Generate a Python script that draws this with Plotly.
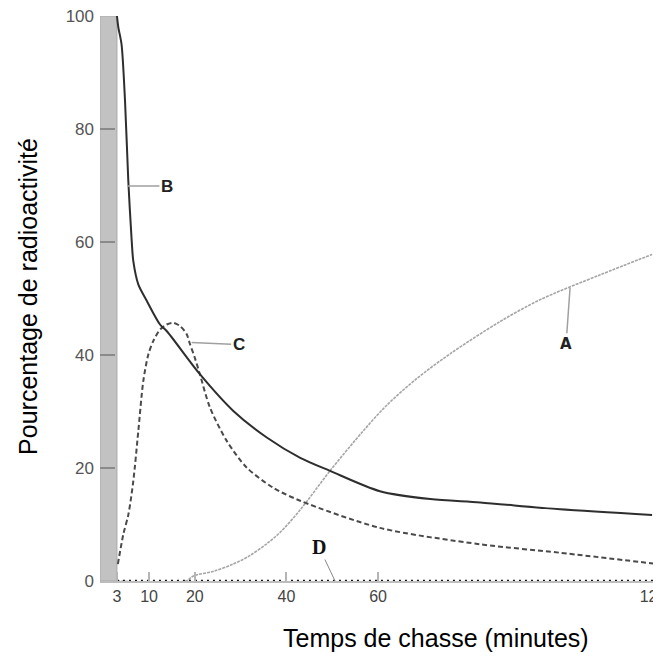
import plotly.graph_objects as go

# ---- data ----
pulse_start = -0.7
pulse_end = 3.0

b_x = [3.0, 3.3, 4.0, 4.76, 5.48, 6.22, 6.57, 7.66, 9.5, 12.4, 13.9, 21.1, 28.4, 35.7, 43.0, 49.5, 60.4, 71.4, 82.3, 99.7, 119.8]
b_y = [100, 98, 95.0, 85.0, 70.8, 60.2, 56.6, 52.5, 49.6, 45.4, 44.2, 36.6, 30.1, 25.4, 21.8, 19.5, 15.9, 14.5, 13.9, 12.7, 11.7]

c_x = [3.2, 4.4, 5.5, 6.57, 7.66, 8.75, 9.85, 10.94, 12.4, 13.86, 15.3, 16.8, 18.2, 18.95, 20.0, 21.1, 23.3, 26.96, 31.3, 37.1, 43.0, 60.4, 82.3, 99.7, 120.0]
c_y = [3.0, 8.3, 11.8, 17.7, 26.5, 35.4, 40.1, 42.5, 44.5, 45.4, 45.7, 45.1, 43.7, 41.9, 39.5, 36.6, 30.7, 24.8, 20.1, 16.5, 14.2, 9.4, 6.5, 5.0, 3.1]

a_x = [3.0, 18.0, 19.7, 24.0, 28.4, 32.0, 35.7, 38.6, 43.0, 49.5, 56.8, 62.0, 68.4, 75.7, 86.6, 95.4, 108.5, 119.8]
a_y = [0.0, 0.0, 0.9, 1.7, 3.0, 4.5, 6.6, 8.6, 12.6, 19.5, 26.6, 31.2, 35.8, 40.2, 45.9, 49.8, 54.2, 57.8]

d_x = [3.0, 120.0]
d_y = [0.0, 0.0]

x_tick_vals = [3, 10, 20, 40, 60, 120]
x_tick_text = ["3", "10", "20", "40", "60", "120"]
y_tick_vals = [0, 20, 40, 60, 80, 100]

labels = ["B", "C", "A", "D"]
label_x = [5.4, 19.3, 101.9, 50.6]
label_y = [69.9, 42.2, 51.9, 0.0]

x_title = "Temps de chasse (minutes)"
y_title = "Pourcentage de radioactivité"

# ---- figure ----
fig = go.Figure()

fig.add_shape(type="rect", xref="x", yref="y", x0=pulse_start, x1=pulse_end, y0=0, y1=100,
              fillcolor="#c2c2c2", line=dict(color="#a9a9a9", width=1), layer="below")

fig.add_trace(go.Scatter(x=a_x, y=a_y, mode="lines", line=dict(color="#a5a5a5", width=1.6, dash="3px,1px", shape="spline", smoothing=0.9),
                         cliponaxis=False, showlegend=False, hoverinfo="skip"))
fig.add_trace(go.Scatter(x=c_x, y=c_y, mode="lines", line=dict(color="#4a4a4a", width=2, dash="5px,3px", shape="spline", smoothing=0.8),
                         cliponaxis=False, showlegend=False, hoverinfo="skip"))
fig.add_trace(go.Scatter(x=b_x, y=b_y, mode="lines", line=dict(color="#2e2e2e", width=2, shape="spline", smoothing=0.8),
                         cliponaxis=False, showlegend=False, hoverinfo="skip"))
fig.add_trace(go.Scatter(x=d_x, y=d_y, mode="lines", line=dict(color="#111111", width=2.5, dash="2px,4px"),
                         cliponaxis=False, showlegend=False, hoverinfo="skip"))

label_offsets = [(39, 0), (47, 2), (-4, 56), (-16, -34)]
label_fonts = [
    dict(family="Liberation Sans", size=17, color="#222"),
    dict(family="Liberation Sans", size=17, color="#222"),
    dict(family="DejaVu Sans", size=15, color="#222"),
    dict(family="Liberation Serif", size=20, color="#111"),
]
for i, lab in enumerate(labels):
    ax, ay = label_offsets[i]
    fig.add_annotation(x=label_x[i], y=label_y[i], xref="x", yref="y", text="<b>%s</b>" % lab,
                       showarrow=True, arrowhead=0, arrowwidth=1.5 if i < 3 else 1,
                       arrowcolor="#a0a0a0" if i < 3 else "#888",
                       ax=ax, ay=ay, font=label_fonts[i], standoff=0, startstandoff=0)

fig.add_annotation(x=0.6076, y=-0.101, xref="paper", yref="paper", text=x_title, showarrow=False,
                   font=dict(family="Liberation Sans", size=25, color="#000"), xanchor="center", yanchor="middle")
fig.add_annotation(x=-0.130, y=0.503, xref="paper", yref="paper", text=y_title, showarrow=False, textangle=-90,
                   font=dict(family="Liberation Sans", size=25, color="#000"), xanchor="center", yanchor="middle")

fig.update_layout(
    width=653, height=650,
    margin=dict(l=92, r=8, t=8, b=77, autoexpand=False),
    paper_bgcolor="white", plot_bgcolor="white",
    xaxis=dict(range=[pulse_start, 120], tickvals=x_tick_vals, ticktext=x_tick_text,
               ticks="inside", ticklen=9, tickcolor="#b5b5b5", tickwidth=1.5,
               showline=True, linecolor="#bdbdbd", linewidth=2, automargin=False,
               showgrid=False, zeroline=False, ticklabeloverflow="allow",
               tickfont=dict(family="Liberation Sans", size=16, color="#444")),
    yaxis=dict(range=[0, 100], tickvals=y_tick_vals,
               ticks="inside", ticklen=15, tickcolor="#8a8a8a", tickwidth=1.5,
               showline=False, showgrid=False, zeroline=False, ticklabelstandoff=5,
               ticklabeloverflow="allow", automargin=False,
               tickfont=dict(family="Liberation Sans", size=17, color="#555")),
)

fig.write_html("out.html")
